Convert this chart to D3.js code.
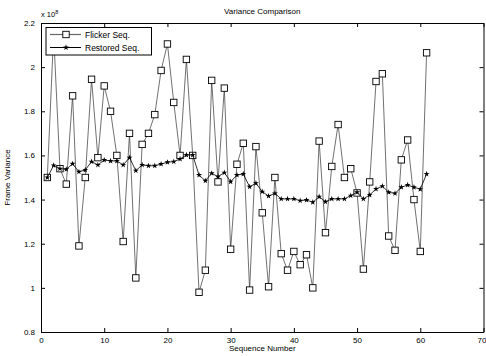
<!DOCTYPE html>
<html><head><meta charset="utf-8">
<script src="https://cdn.jsdelivr.net/npm/d3@7"></script>
<style>body{margin:0;background:#fff}svg{display:block}text{font-family:"Liberation Sans",Arial,sans-serif;fill:#000}</style>
</head><body><svg id="c" width="486" height="356"></svg>
<script>
const sequence = d3.range(1, 62);
const flicker = [1.50,2.15,1.54,1.47,1.87,1.19,1.50,1.945,1.59,1.915,1.80,1.60,1.21,1.70,1.045,1.65,1.70,1.785,1.985,2.105,1.84,1.60,2.035,1.60,0.98,1.08,1.94,1.48,1.905,1.175,1.56,1.655,0.99,1.64,1.34,1.005,1.50,1.155,1.08,1.165,1.105,1.15,1.00,1.665,1.25,1.55,1.74,1.50,1.54,1.43,1.085,1.48,1.935,1.97,1.235,1.17,1.58,1.67,1.40,1.165,2.065];
const restored = [1.50,1.555,1.54,1.537,1.562,1.526,1.534,1.572,1.557,1.579,1.575,1.575,1.557,1.59,1.531,1.557,1.553,1.553,1.561,1.569,1.572,1.584,1.602,1.602,1.511,1.485,1.519,1.504,1.522,1.481,1.511,1.516,1.458,1.474,1.436,1.416,1.428,1.403,1.403,1.403,1.395,1.398,1.388,1.413,1.39,1.403,1.403,1.403,1.418,1.433,1.403,1.421,1.448,1.461,1.433,1.428,1.456,1.466,1.456,1.447,1.516];
const xTicks = [0,10,20,30,40,50,60,70];
const yTicks = [0.8,1,1.2,1.4,1.6,1.8,2,2.2];
const seriesNames = ["Flicker Seq.","Restored Seq."];

const svg = d3.select("#c");
const L=41,R=483.5,T=23,B=332;
const x = d3.scaleLinear().domain([0,70]).range([L,R]);
const y = d3.scaleLinear().domain([0.8,2.2]).range([B,T]);

svg.append("rect").attr("x",L).attr("y",T).attr("width",R-L).attr("height",B-T).attr("fill","#fff");

const fmtY = d => d===1||d===2 ? String(d) : d3.format(".1f")(d);
const gb = svg.append("g").attr("transform",`translate(0,${B})`).call(d3.axisBottom(x).tickValues(xTicks).tickSize(-4).tickPadding(5).tickSizeOuter(0));
const gt = svg.append("g").attr("transform",`translate(0,${T})`).call(d3.axisTop(x).tickValues(xTicks).tickSize(-4).tickFormat("").tickSizeOuter(0));
const gl = svg.append("g").attr("transform",`translate(${L},0)`).call(d3.axisLeft(y).tickValues(yTicks).tickSize(-4).tickPadding(6).tickFormat(fmtY).tickSizeOuter(0));
const gr = svg.append("g").attr("transform",`translate(${R},0)`).call(d3.axisRight(y).tickValues(yTicks).tickSize(-4).tickFormat("").tickSizeOuter(0));
[gb,gt,gl,gr].forEach(g=>{g.select(".domain").attr("stroke","#000").attr("stroke-width",1);g.selectAll("line").attr("stroke","#000");g.selectAll("text").style("font-size","8px").attr("font-family","Liberation Sans, Arial, sans-serif");});
gb.selectAll(".tick text").filter(d=>d===70).attr("text-anchor","end").attr("dx","2.5");

const line = d3.line().x((d,i)=>x(sequence[i])).y(d=>y(d));
svg.append("path").datum(flicker).attr("d",line).attr("fill","none").attr("stroke","#333").attr("stroke-width",0.7);
svg.append("g").selectAll("rect").data(flicker).join("rect")
  .attr("x",(d,i)=>x(sequence[i])-3.2).attr("y",d=>y(d)-3.2).attr("width",6.4).attr("height",6.4)
  .attr("fill","#fff").attr("stroke","#000").attr("stroke-width",0.9);
svg.append("path").datum(restored).attr("d",line).attr("fill","none").attr("stroke","#000").attr("stroke-width",0.8);
const star = d3.symbol().type(d3.symbolStar).size(11);
svg.append("g").selectAll("path").data(restored).join("path")
  .attr("transform",(d,i)=>`translate(${x(sequence[i])},${y(d)})`).attr("d",star).attr("fill","#000");

// legend
const lg = svg.append("g");
lg.append("rect").attr("x",46).attr("y",27.5).attr("width",105.5).attr("height",27.5).attr("fill","#fff").attr("stroke","#000").attr("stroke-width",1);
lg.append("line").attr("x1",50).attr("x2",81).attr("y1",34.5).attr("y2",34.5).attr("stroke","#666").attr("stroke-width",1.2);
lg.append("rect").attr("x",66-3.2).attr("y",34.5-3.2).attr("width",6.4).attr("height",6.4).attr("fill","#fff").attr("stroke","#000").attr("stroke-width",0.9);
lg.append("line").attr("x1",50).attr("x2",81).attr("y1",47.5).attr("y2",47.5).attr("stroke","#000").attr("stroke-width",1);
lg.append("path").attr("transform","translate(66,47.5)").attr("d",star).attr("fill","#000");
lg.append("text").attr("x",85).attr("y",37.5).style("font-size","8.5px").text(seriesNames[0]);
lg.append("text").attr("x",85).attr("y",50.5).style("font-size","8.5px").text(seriesNames[1]);

svg.append("text").attr("x",(L+R)/2).attr("y",14).attr("text-anchor","middle").style("font-size","8px").text("Variance Comparison");
svg.append("text").attr("x",(L+R)/2).attr("y",351).attr("text-anchor","middle").style("font-size","8px").text("Sequence Number");
svg.append("text").attr("transform",`translate(10,${(T+B)/2}) rotate(-90)`).attr("text-anchor","middle").style("font-size","8px").text("Frame Variance");
const ex = svg.append("text").attr("x",41).attr("y",17).style("font-size","7.5px");
ex.append("tspan").text("x 10");
ex.append("tspan").attr("dy",-3).style("font-size","5.5px").text("8");
</script></body></html>
